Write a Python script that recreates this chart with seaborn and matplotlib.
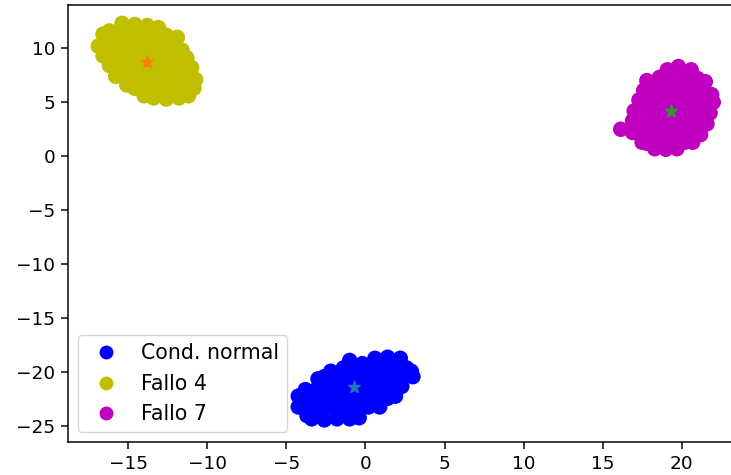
import matplotlib
matplotlib.use("Agg")
import matplotlib.pyplot as plt
import seaborn as sns
import pandas as pd

# ---- data ----
labels = ["Cond. normal", "Fallo 4", "Fallo 7"]
colors = ["b", "y", "m"]

normal_x = [-1.0, -0.2, 0.6, 1.4, 2.2,
            -2.2, -1.4, -0.6, 0.2, 1.0, 1.8, 2.6, 2.9,
            -3.0, -2.6, -1.8, -1.0, -0.2, 0.6, 1.4, 2.2, 3.0,
            -3.8, -3.0, -2.2, -1.4, -0.6, 0.2, 1.0, 1.8, 2.3,
            -4.25, -3.4, -2.6, -1.8, -1.0, -0.2, 0.6, 1.4, 1.9,
            -4.25, -3.8, -3.0, -2.2, -1.4, -0.6, 0.2, 0.9,
            -3.7, -3.4, -2.6, -1.8, -1.0, -0.4]
normal_y = [-18.9, -19.2, -18.7, -18.6, -18.7,
            -19.9, -19.6, -19.6, -19.7, -19.6, -19.5, -19.6, -19.9,
            -20.6, -20.4, -20.5, -20.5, -20.4, -20.6, -20.5, -20.6, -20.4,
            -21.6, -21.4, -21.5, -21.3, -21.4, -21.5, -21.4, -21.3, -21.3,
            -22.2, -22.4, -22.3, -22.5, -22.4, -22.3, -22.5, -22.4, -22.2,
            -23.2, -23.3, -23.4, -23.2, -23.3, -23.4, -23.2, -23.2,
            -24.0, -24.3, -24.4, -24.3, -24.3, -24.2]

f4_x = [-16.2, -15.4, -14.6, -13.8, -13.1,
        -16.6, -15.8, -15.0, -14.2, -13.4, -12.6, -11.9,
        -16.9, -16.2, -15.4, -14.6, -13.8, -13.0, -12.2, -11.6,
        -16.6, -15.8, -15.0, -14.2, -13.4, -12.6, -11.8, -11.3,
        -16.2, -15.4, -14.6, -13.8, -13.0, -12.2, -11.4, -11.0,
        -15.8, -15.0, -14.2, -13.4, -12.6, -11.8, -11.0, -10.75,
        -15.1, -14.6, -13.8, -13.0, -12.2, -11.4, -10.85,
        -14.0, -13.4, -12.6, -11.8, -11.2]
f4_y = [11.6, 12.3, 12.2, 12.1, 11.9,
        11.3, 11.4, 11.2, 11.3, 11.4, 11.2, 11.0,
        10.2, 10.3, 10.4, 10.3, 10.2, 10.4, 10.3, 9.8,
        9.3, 9.4, 9.2, 9.3, 9.4, 9.2, 9.3, 9.1,
        8.4, 8.3, 8.2, 8.4, 8.3, 8.2, 8.4, 8.2,
        7.4, 7.3, 7.2, 7.4, 7.3, 7.2, 7.4, 7.1,
        6.6, 6.3, 6.2, 6.3, 6.4, 6.2, 6.3,
        5.6, 5.4, 5.3, 5.4, 5.6]

f7_x = [19.1, 19.8, 20.6,
        17.8, 18.6, 19.4, 20.2, 21.0, 21.5,
        17.6, 18.2, 19.0, 19.8, 20.6, 21.4, 21.9,
        17.3, 17.8, 18.6, 19.4, 20.2, 21.0, 21.8, 22.0,
        17.0, 17.4, 18.2, 19.0, 19.8, 20.6, 21.4, 21.8,
        16.9, 17.8, 18.6, 19.4, 20.2, 21.0, 21.6,
        16.15,
        16.9, 17.4, 18.2, 19.0, 19.8, 20.6, 21.2,
        17.5, 17.8, 18.6, 19.4, 20.2, 20.7,
        18.3, 19.0, 19.7]
f7_y = [8.0, 8.3, 8.0,
        7.0, 7.3, 7.2, 7.2, 7.2, 6.9,
        6.1, 6.2, 6.3, 6.2, 6.3, 6.2, 5.7,
        5.2, 5.3, 5.2, 5.3, 5.2, 5.3, 5.2, 5.0,
        4.2, 4.3, 4.2, 4.3, 4.2, 4.3, 4.2, 4.0,
        3.3, 3.2, 3.3, 3.2, 3.3, 3.2, 3.0,
        2.5,
        2.2, 2.3, 2.2, 2.3, 2.2, 2.2, 2.0,
        1.3, 1.2, 1.3, 1.2, 1.3, 1.3,
        0.7, 0.65, 0.7]

# centroids (stars)
cent_x = [-0.7, -13.8, 19.35]
cent_y = [-21.4, 8.7, 4.2]

xticks = [-15, -10, -5, 0, 5, 10, 15, 20]
yticks = [-25, -20, -15, -10, -5, 0, 5, 10]

# ---- build table ----
df = pd.concat([
    pd.DataFrame({"x": normal_x, "y": normal_y, "grupo": labels[0]}),
    pd.DataFrame({"x": f4_x, "y": f4_y, "grupo": labels[1]}),
    pd.DataFrame({"x": f7_x, "y": f7_y, "grupo": labels[2]}),
], ignore_index=True)

FS = 13.3
plt.rcParams.update({
    "font.family": ["DejaVu Sans"],
    "font.size": FS,
    "axes.linewidth": 1.08,
    "xtick.major.width": 1.08,
    "ytick.major.width": 1.08,
    "xtick.major.size": 4.7,
    "ytick.major.size": 4.7,
    "xtick.major.pad": 4.7,
    "ytick.major.pad": 4.7,
})

fig = plt.figure(figsize=(7.31, 4.75), dpi=100)
W, H = 731, 475
left, right, top, bottom = 68.3, 733.0, 5.0, 441.5
ax = fig.add_axes([left / W, 1 - bottom / H, (right - left) / W, (bottom - top) / H])

sns.scatterplot(data=df, x="x", y="y", hue="grupo", hue_order=labels,
                palette=dict(zip(labels, colors)), s=125, linewidth=0,
                edgecolor="none", alpha=1, ax=ax)
star_cols = ["C0", "C1", "C2"]
for cx, cy, c in zip(cent_x, cent_y, star_cols):
    ax.plot([cx], [cy], marker="*", color=c, markersize=9.5,
            linestyle="none", label="_nolegend_")

ax.set_xlim(-18.8, 23.25)
ax.set_ylim(-26.4, 14.0)
ax.set_xticks(xticks)
ax.set_yticks(yticks)
ax.set_xlabel("")
ax.set_ylabel("")
ax.tick_params(labelsize=FS)

handles, labs = ax.get_legend_handles_labels()
hl = [(h, l) for h, l in zip(handles, labs) if l in labels]
leg = ax.legend([h for h, _ in hl], [l for _, l in hl], loc="lower left",
                fontsize=14.8, frameon=True, title=None,
                borderaxespad=0.45, handletextpad=0.7)
for h in leg.legend_handles:
    try:
        h.set_markersize(10)
    except Exception:
        pass

fig.savefig("out.png", dpi=100)
